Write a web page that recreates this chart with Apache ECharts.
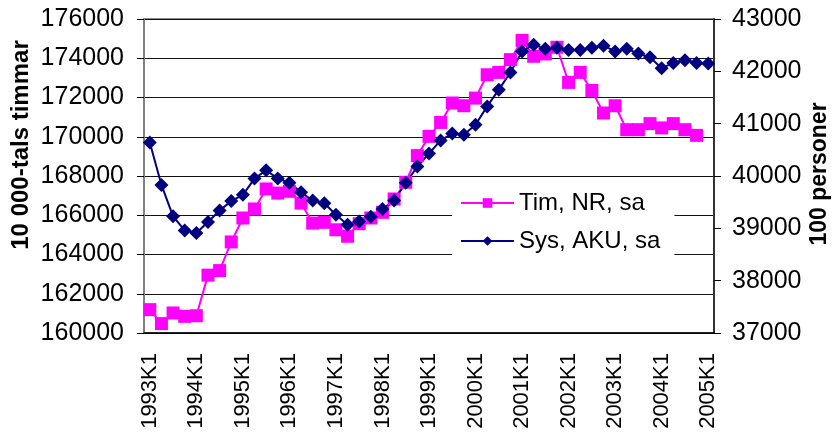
<!DOCTYPE html>
<html>
<head>
<meta charset="utf-8">
<script src="https://cdn.jsdelivr.net/npm/echarts@6/dist/echarts.min.js"></script>
<style>html,body{margin:0;padding:0;background:#fff}#c{width:834px;height:439px}</style>
</head>
<body>
<div id="c"></div>
<script>
var categories = [
  "1993K1","1993K2","1993K3","1993K4","1994K1","1994K2","1994K3","1994K4",
  "1995K1","1995K2","1995K3","1995K4","1996K1","1996K2","1996K3","1996K4",
  "1997K1","1997K2","1997K3","1997K4","1998K1","1998K2","1998K3","1998K4",
  "1999K1","1999K2","1999K3","1999K4","2000K1","2000K2","2000K3","2000K4",
  "2001K1","2001K2","2001K3","2001K4","2002K1","2002K2","2002K3","2002K4",
  "2003K1","2003K2","2003K3","2003K4","2004K1","2004K2","2004K3","2004K4",
  "2005K1"
];
var timNR = [
  161190, 160480, 161020, 160850, 160880, 162950, 163180, 164640,
  165860, 166320, 167340, 167130, 167220, 166620, 165600, 165640,
  165260, 164930, 165570, 165860, 166150, 166830, 167680, 169040,
  170020, 170730, 171720, 171580, 171970, 173160, 173280, 173930,
  174910, 174100, 174220, 174560, 172770, 173280, 172360, 171210,
  171580, 170360, 170360, 170670, 170450, 170670, 170360, 170070
];
var sysAKU = [
  40640, 39830, 39230, 38960, 38910, 39120, 39340, 39520,
  39640, 39950, 40110, 39950, 39870, 39690, 39530, 39480,
  39260, 39070, 39130, 39220, 39370, 39530, 39870, 40180,
  40430, 40680, 40810, 40790, 40980, 41330, 41650, 41980,
  42380, 42510, 42430, 42450, 42410, 42410, 42450, 42490,
  42380, 42430, 42340, 42270, 42060, 42160, 42210, 42160,
  42150
];
var leftTicks = {min:160000, max:176000, interval:2000};
var rightTicks = {min:37000, max:43000, interval:1000};

var FONT = '"Liberation Sans", Arial, sans-serif';
var chart = echarts.init(document.getElementById('c'), null, {renderer:'canvas'});
chart.setOption({
  animation:false,
  backgroundColor:'#fff',
  textStyle:{fontFamily:FONT, color:'#000'},
  grid:{left:144, right:120, top:19, bottom:106, show:true, borderColor:'#8c8c8c', borderWidth:2, backgroundColor:'transparent'},
  legend:{
    orient:'vertical', left:452, top:183,
    backgroundColor:'#fff', padding:[8,14,10,8],
    itemWidth:53, itemHeight:12, itemGap:14,
    textStyle:{fontFamily:FONT, fontSize:24, color:'#000'},
    data:['Tim, NR, sa','Sys, AKU, sa']
  },
  xAxis:{
    type:'category', data:categories, boundaryGap:true,
    axisLine:{lineStyle:{color:'#000', width:1.5}},
    axisTick:{interval:0, length:7, lineStyle:{color:'#000'}},
    axisLabel:{interval:3, rotate:90, margin:20, fontSize:22, color:'#000', fontFamily:FONT},
    splitLine:{show:false}
  },
  yAxis:[
    {
      type:'value', position:'left', min:leftTicks.min, max:leftTicks.max, interval:leftTicks.interval,
      axisLine:{show:true, lineStyle:{color:'#808080', width:2}},
      axisTick:{show:true, length:7, lineStyle:{color:'#000'}},
      axisLabel:{margin:20, fontSize:25, color:'#000', fontFamily:FONT, formatter:function(v){return String(v);}},
      splitLine:{show:true, lineStyle:{color:'#111', width:1}}
    },
    {
      type:'value', position:'right', min:rightTicks.min, max:rightTicks.max, interval:rightTicks.interval,
      axisLine:{show:true, lineStyle:{color:'#333', width:2}},
      axisTick:{show:true, length:7, lineStyle:{color:'#000'}},
      axisLabel:{margin:18, fontSize:25, color:'#000', fontFamily:FONT, formatter:function(v){return String(v);}},
      splitLine:{show:false}
    }
  ],
  graphic:[
    {type:'text', x:21, y:145, rotation:Math.PI/2,
     style:{text:'10 000-tals timmar', font:'bold 24px '+FONT, fill:'#000', align:'center', verticalAlign:'middle'}},
    {type:'text', x:820, y:174, rotation:Math.PI/2,
     style:{text:'100 personer', font:'bold 23px '+FONT, fill:'#000', align:'center', verticalAlign:'middle'}}
  ],
  series:[
    {
      name:'Tim, NR, sa', type:'line', yAxisIndex:0, data:timNR,
      symbol:'rect', symbolSize:13, showAllSymbol:true,
      lineStyle:{color:'#ff00ff', width:2},
      itemStyle:{color:'#ff00ff'}
    },
    {
      name:'Sys, AKU, sa', type:'line', yAxisIndex:1, data:sysAKU,
      symbol:'diamond', symbolSize:14, showAllSymbol:true,
      lineStyle:{color:'#000080', width:2},
      itemStyle:{color:'#000080'}
    }
  ]
});
</script>
</body>
</html>
